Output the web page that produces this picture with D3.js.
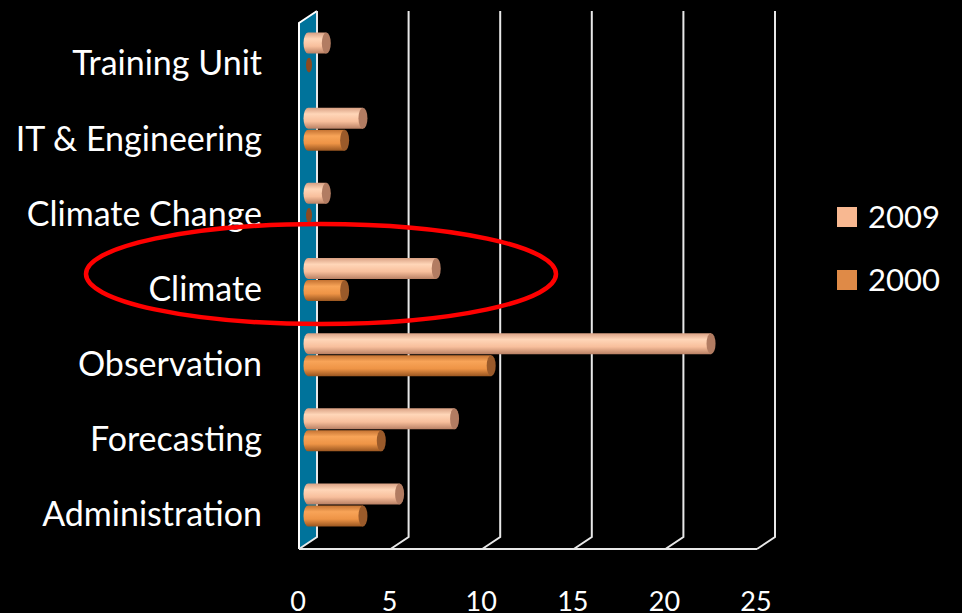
<!DOCTYPE html>
<html>
<head>
<meta charset="utf-8">
<script src="https://cdn.jsdelivr.net/npm/d3@7"></script>
<style>
  html, body { margin: 0; padding: 0; background: #000; }
  svg { display: block; }
  text { font-family: Lato, "Open Sans", sans-serif; fill: #fff; }
</style>
</head>
<body>
<svg id="chart" width="962" height="613"></svg>
<script>
// data, top row first
var categories = ["Training Unit", "IT & Engineering", "Climate Change", "Climate",
                  "Observation", "Forecasting", "Administration"];
var series = ["2009", "2000"];
var values2009 = [1, 3, 1, 7, 22, 8, 5];
var values2000 = [0, 2, 0, 2, 10, 4, 3];
var tickValues = [0, 5, 10, 15, 20, 25];

var svg = d3.select("#chart");

// front plane of the 3d box, back plane is shifted by depth
var depthX = 18, depthY = -12;
var x = d3.scaleLinear().domain([0, 25]).range([299, 757]);
var y = d3.scaleBand().domain(categories).range([23, 549]);
var ySeries = d3.scaleBand().domain(series).range([-22, 22]);

var colors = {
    "2009": {top: "#d9a083", hi: "#ffd6b8", mid: "#f8bf9c", low: "#b98064", cap: "#b27c62", legend: "#f8b891"},
    "2000": {top: "#c47232", hi: "#f8a458", mid: "#ee9446", low: "#9a5620", cap: "#9a5a2a", legend: "#df8a47"}
};

var defs = svg.append("defs");
series.forEach(function (s) {
    var c = colors[s];
    var g = defs.append("linearGradient")
        .attr("id", "grad" + s)
        .attr("x1", 0).attr("y1", 0).attr("x2", 0).attr("y2", 1);
    g.append("stop").attr("offset", "0%").attr("stop-color", c.top);
    g.append("stop").attr("offset", "30%").attr("stop-color", c.hi);
    g.append("stop").attr("offset", "65%").attr("stop-color", c.mid);
    g.append("stop").attr("offset", "100%").attr("stop-color", c.low);
});

var yTop = y.range()[0], yBottom = y.range()[1];

/* left wall */
svg.append("path")
    .attr("d", "M" + x(0) + "," + yTop +
        "L" + (x(0) + depthX) + "," + (yTop + depthY) +
        "L" + (x(0) + depthX) + "," + (yBottom + depthY) +
        "L" + x(0) + "," + yBottom + "Z")
    .attr("fill", "#00739b");

svg.append("path")
    .attr("d", "M" + x(0) + "," + yBottom +
        "L" + x(0) + "," + yTop +
        "L" + (x(0) + depthX) + "," + (yTop + depthY))
    .attr("fill", "none")
    .attr("stroke", "#fff")
    .attr("stroke-width", 2);

/* gridlines on back wall + floor edges */
var grid = svg.append("g").attr("class", "grid");
grid.selectAll("path")
    .data(tickValues)
    .enter().append("path")
    .attr("d", function (d) {
        return "M" + (x(d) + depthX) + "," + (yTop + depthY) +
            "L" + (x(d) + depthX) + "," + (yBottom + depthY) +
            "L" + x(d) + "," + yBottom;
    })
    .attr("fill", "none")
    .attr("stroke", "#e8e8e8")
    .attr("stroke-width", 2);

grid.append("line")
    .attr("x1", x(0)).attr("x2", x(25))
    .attr("y1", yBottom).attr("y2", yBottom)
    .attr("stroke", "#e8e8e8")
    .attr("stroke-width", 2);

/* cylinders */
var rows = [];
categories.forEach(function (c, i) {
    rows.push({cat: c, s: "2009", v: values2009[i]});
    rows.push({cat: c, s: "2000", v: values2000[i]});
});

var barH = ySeries.bandwidth() - 1;
var rx = 4.5;
var bars = svg.append("g").attr("class", "bars")
    .selectAll("g")
    .data(rows)
    .enter().append("g");

bars.each(function (d) {
    var g = d3.select(this);
    var x0 = x(0) + depthX / 2;
    var x1 = x(d.v) + depthX / 2;
    var yt = y(d.cat) + y.bandwidth() / 2 + depthY / 2 + ySeries(d.s);
    var yb = yt + barH;
    var r = barH / 2;
    if (d.v > 0) {
        g.append("path")
            .attr("d", "M" + x1 + "," + yt + "L" + x0 + "," + yt +
                "A" + rx + "," + r + " 0 0 0 " + x0 + "," + yb +
                "L" + x1 + "," + yb + "Z")
            .attr("fill", "url(#grad" + d.s + ")");
        g.append("ellipse")
            .attr("cx", x1).attr("cy", yt + r)
            .attr("rx", rx).attr("ry", r)
            .attr("fill", colors[d.s].cap);
    } else {
        g.append("ellipse")
            .attr("cx", x0 + 1).attr("cy", yt + r)
            .attr("rx", 3).attr("ry", r * 0.7)
            .attr("fill", "#8a4a22");
    }
});

/* category labels */
svg.append("g").selectAll("text")
    .data(categories)
    .enter().append("text")
    .attr("x", 262)
    .attr("y", function (d) { return y(d) + y.bandwidth() / 2 + 3; })
    .attr("dy", "0.35em")
    .attr("text-anchor", "end")
    .style("font-size", "34px")
    .text(function (d) { return d; });

/* x tick labels */
svg.append("g").selectAll("text")
    .data(tickValues)
    .enter().append("text")
    .attr("x", function (d) { return x(d) - 1; })
    .attr("y", 611)
    .attr("text-anchor", "middle")
    .style("font-size", "27px")
    .text(function (d) { return d; });

/* legend */
var legend = svg.append("g").selectAll("g")
    .data(series)
    .enter().append("g")
    .attr("transform", function (d, i) { return "translate(837," + (207 + i * 63) + ")"; });

legend.append("rect")
    .attr("width", 20).attr("height", 20)
    .attr("fill", function (d) { return colors[d].legend; });

legend.append("text")
    .attr("x", 31).attr("y", 10)
    .attr("dy", "0.35em")
    .style("font-size", "31px")
    .text(function (d) { return d; });

/* red highlight ellipse around Climate */
svg.append("ellipse")
    .attr("cx", 321).attr("cy", y("Climate") + y.bandwidth() / 2 - 12)
    .attr("rx", 235).attr("ry", 50)
    .attr("fill", "none")
    .attr("stroke", "#ff0000")
    .attr("stroke-width", 4.5);
</script>
</body>
</html>
